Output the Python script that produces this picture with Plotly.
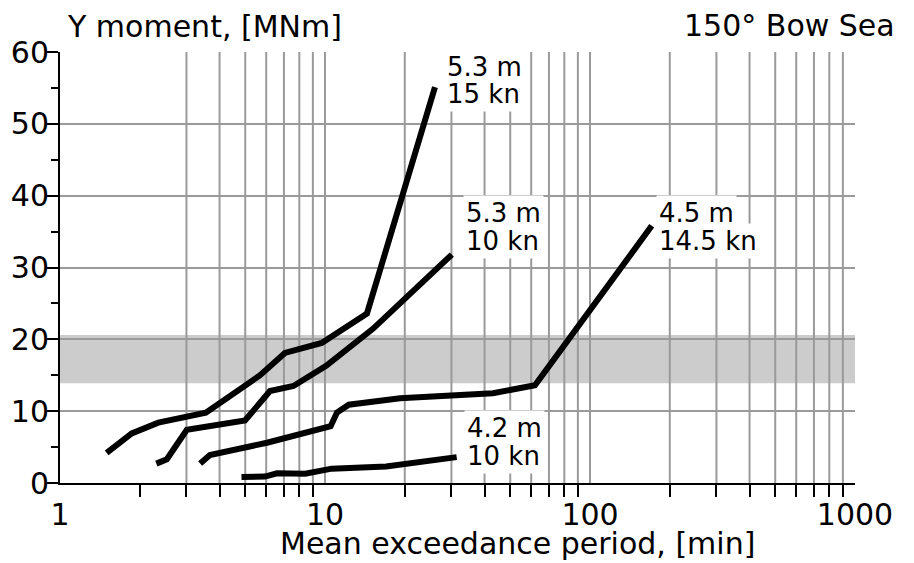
import math
import plotly.graph_objects as go

# ---- data ----
c1_x = [1.50, 1.66, 1.865, 2.35, 3.55, 5.69, 7.06, 9.72, 14.4, 26.0]
c1_y = [4.2, 5.5, 6.9, 8.4, 9.8, 15.0, 18.1, 19.5, 23.6, 55.1]

c2_x = [2.31, 2.53, 3.01, 4.99, 6.2, 7.6, 10.1, 15.2, 30.1]
c2_y = [2.7, 3.3, 7.4, 8.7, 12.8, 13.5, 16.3, 21.5, 31.8]

c3_x = [3.38, 3.68, 6.04, 10.5, 11.1, 12.3, 19.2, 43.0, 62.0, 171.0]
c3_y = [2.7, 3.9, 5.6, 7.9, 9.8, 10.9, 11.8, 12.5, 13.6, 35.8]

c4_x = [4.84, 5.94, 6.59, 8.42, 10.6, 17.0, 31.4]
c4_y = [0.85, 0.9, 1.35, 1.3, 2.0, 2.3, 3.6]

band_y = [13.9, 20.6]

x_major = [1, 10, 100, 1000]
x_major_text = ["1", "10", "100", "1000"]
x_minor = [2, 3, 4, 5, 6, 7, 8, 9, 20, 30, 40, 50, 60, 70, 80, 90,
           200, 300, 400, 500, 600, 700, 800, 900]
x_grid_minor = [3, 4, 5, 6, 7, 8, 9, 20, 30, 40, 50, 60, 70, 80, 90,
                200, 300, 400, 500, 600, 700, 800, 900]
y_major = [0, 10, 20, 30, 40, 50, 60]
y_minor = [5, 15, 25, 35, 45, 55]

labels = [
    # (line1, line2, x_left, y_line1, y_line2)
    ("5.3 m", "15 kn", 29.0, 57.9, 54.2),
    ("5.3 m", "10 kn", 34.2, 37.6, 33.7),
    ("4.5 m", "14.5 kn", 183.0, 37.6, 33.7),
    ("4.2 m", "10 kn", 34.7, 7.66, 3.8),
]

FONT = "DejaVu Sans"
GRID = "#9a9a9a"

fig = go.Figure()
for xs, ys in [(c1_x, c1_y), (c2_x, c2_y), (c3_x, c3_y), (c4_x, c4_y)]:
    fig.add_trace(go.Scatter(x=xs, y=ys, mode="lines",
                             line=dict(color="black", width=6),
                             hoverinfo="skip"))

shapes = [dict(type="rect", xref="paper", x0=0, x1=1, yref="y",
               y0=band_y[0], y1=band_y[1], fillcolor="#cccccc",
               line=dict(width=0), layer="below")]
for gx in x_grid_minor:
    shapes.append(dict(type="line", xref="x", x0=gx, x1=gx, yref="paper",
                       y0=0, y1=1, line=dict(color=GRID, width=2),
                       layer="below"))

annots = []
for l1, l2, xl, y1, y2 in labels:
    for txt, yy in [(l1, y1), (l2, y2)]:
        annots.append(dict(text=txt, x=math.log10(xl), y=yy, xref="x", yref="y",
                           xanchor="left", yanchor="middle", showarrow=False,
                           bgcolor="white", borderpad=2, xshift=-4,
                           font=dict(family=FONT, size=26, color="black")))

annots.append(dict(text="Y moment, [MNm]", xref="paper", yref="paper",
                   x=0, y=1, xanchor="left", yanchor="middle", xshift=5,
                   yshift=26, showarrow=False,
                   font=dict(family=FONT, size=30, color="black")))
annots.append(dict(text="150° Bow Sea", xref="paper", yref="paper",
                   x=1, y=1, xanchor="right", yanchor="middle", xshift=42,
                   yshift=27, showarrow=False,
                   font=dict(family=FONT, size=30, color="black")))
annots.append(dict(text="Mean exceedance period, [min]", xref="paper",
                   yref="paper", x=0.5755, y=0, xanchor="center",
                   yanchor="middle", yshift=-60, showarrow=False,
                   font=dict(family=FONT, size=30, color="black")))

fig.update_layout(
    width=914, height=563,
    margin=dict(l=60, r=59, t=52, b=80),
    paper_bgcolor="white", plot_bgcolor="white",
    showlegend=False,
    shapes=shapes, annotations=annots,
    font=dict(family=FONT, color="black"),
    xaxis=dict(type="log", range=[0, 3], showline=True, linecolor="black",
               linewidth=2, tickvals=x_major, ticktext=x_major_text,
               ticks="outside", ticklen=4, tickcolor="rgba(0,0,0,0)",
               showgrid=True, gridcolor=GRID, gridwidth=2, zeroline=False,
               automargin=False,
               tickfont=dict(family=FONT, size=30, color="black"),
               minor=dict(tickvals=x_minor, ticks="outside", ticklen=12,
                          tickwidth=2, tickcolor="black", showgrid=False)),
    yaxis=dict(range=[0, 60], showline=True, linecolor="black", linewidth=2,
               tickvals=y_major, ticks="outside", ticklen=11, tickwidth=2,
               tickcolor="black", showgrid=True, gridcolor=GRID, gridwidth=2,
               zeroline=False, automargin=False, ticklabelstandoff=-8,
               tickfont=dict(family=FONT, size=30, color="black"),
               minor=dict(tickvals=y_minor, ticks="outside", ticklen=7,
                          tickwidth=2, tickcolor="black", showgrid=False)),
)

fig.write_html("out.html",
               config={"displayModeBar": False},
               post_script="document.body.style.margin='0';"
                           "document.documentElement.style.overflow='hidden';")
